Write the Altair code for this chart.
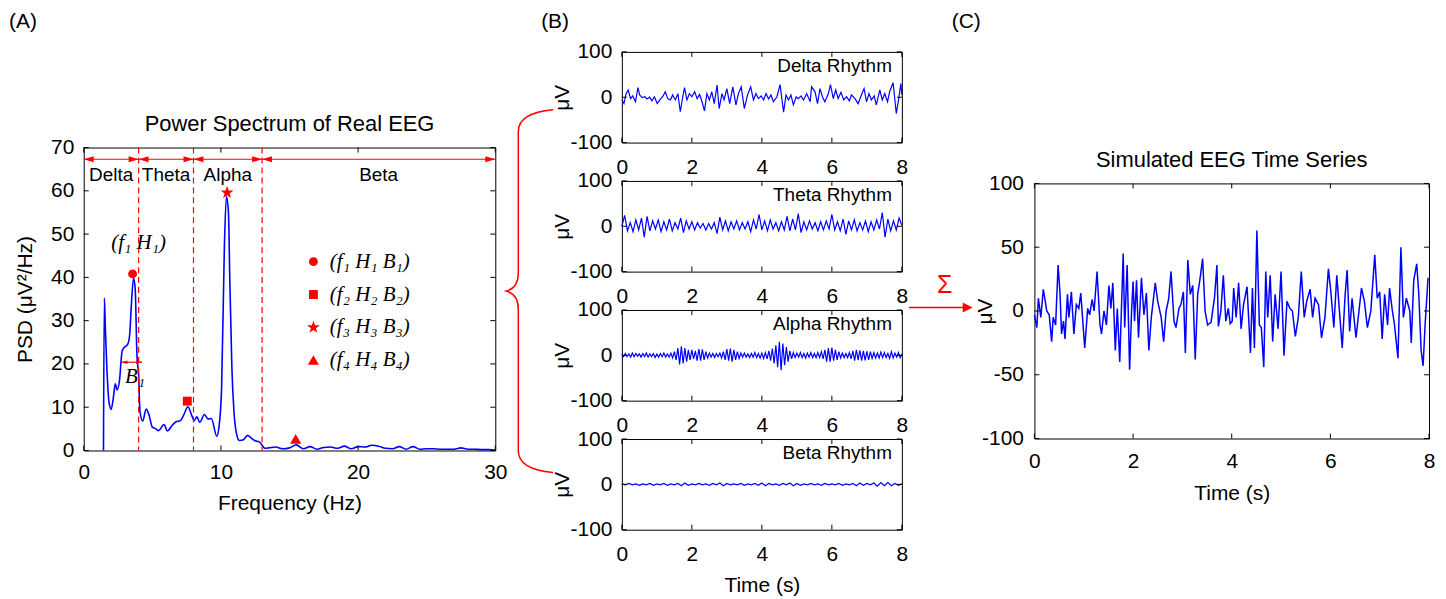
import altair as alt
import pandas as pd

FONT = "Liberation Sans"
SERIF = "Liberation Serif"
BLUE = "#0000ff"
RED = "#ff0000"

# ---------------- Panel A : power spectrum of real EEG ----------------
psd_freq = [1.44, 1.50, 1.58, 1.70, 1.85, 2.00, 2.15, 2.30, 2.43, 2.60,
            2.80, 2.95, 3.20, 3.35, 3.46, 3.63, 3.75, 3.88, 4.00, 4.10,
            4.30, 4.55, 4.75, 5.00, 5.20, 5.45, 5.85, 6.10, 6.40, 6.70,
            7.05, 7.30, 7.60, 7.85, 8.05, 8.25, 8.45, 8.80, 9.05, 9.30,
            9.70, 9.85, 10.05, 10.25, 10.40, 10.55, 10.65, 10.80, 10.95, 11.15,
            11.35, 11.60, 11.95, 12.20, 12.45, 12.80, 13.05, 13.20,
            13.5, 14.0, 14.5, 15.0, 15.5, 16.0, 16.5, 17.0, 17.5, 18.0,
            18.5, 19.0, 19.5, 20.0, 20.5, 21.0, 21.5, 22.0, 22.5, 23.0,
            23.5, 24.0, 24.5, 25.0, 25.5, 26.0, 26.5, 27.0, 27.5, 28.0,
            28.5, 29.0, 29.5, 30.0]
psd_val = [0, 35.2, 28, 18, 11, 9.5, 12, 15.4, 14, 16,
           23, 23.8, 24.5, 26.8, 33, 39.8, 37.5, 22, 17.5, 9,
           6.8, 9.6, 8.3, 5.4, 5.1, 4.6, 6.0, 4.5, 5.6, 6.6,
           6.9, 8.3, 10.1, 8.3, 6.9, 7.8, 6.5, 8.3, 7.3, 7.4,
           3.3, 5.2, 14.5, 46.8, 58.7, 55, 39, 19, 9, 3.7,
           2.3, 2.4, 3.5, 2.9, 2.3, 2.0, 1.0, 0.5,
           0.6, 0.8, 0.4, 0.6, 1.3, 0.4, 0.9, 0.3, 0.7, 0.8,
           0.5, 1.0, 0.4, 0.9, 0.8, 1.2, 1.0, 0.5, 0.4, 0.9,
           0.3, 0.9, 0.3, 0.4, 0.4, 0.3, 0.3, 0.3, 0.6, 0.3,
           0.3, 0.2, 0.2, 0.1]
band_names = ["Delta", "Theta", "Alpha", "Beta"]
band_start = [0, 4, 8, 13]
band_end = [4, 8, 13, 30]
band_mid = [2.0, 6.0, 10.5, 21.5]
band_edges = [4, 8, 13]
band_arrow_level = 67.3
band_label_level = 63.7
peak_labels = ["(f\u2081 H\u2081 B\u2081)", "(f\u2082 H\u2082 B\u2082)",
               "(f\u2083 H\u2083 B\u2083)", "(f\u2084 H\u2084 B\u2084)"]
peak_freq = [3.56, 7.55, 10.45, 15.45]
peak_psd = [40.8, 11.4, 59.6, 2.6]
b1_start, b1_end, b1_level = 2.75, 4.25, 20.4
fh_text, fh_freq, fh_psd = "(f\u2081 H\u2081)", 4.0, 47.9
b1_text, b1_freq, b1_psd = "B\u2081", 3.0, 17.0
psd_xticks = [0, 10, 20, 30]
psd_yticks = [0, 10, 20, 30, 40, 50, 60, 70]

# ---------------- Panel B : rhythms ----------------
delta_t = [0.00, 0.06, 0.12, 0.18, 0.25, 0.31, 0.39, 0.46, 0.51, 0.58,
           0.66, 0.72, 0.79, 0.86, 0.93, 1.01, 1.10, 1.18, 1.24, 1.31,
           1.39, 1.45, 1.53, 1.60, 1.67, 1.74, 1.79, 1.86, 1.93, 2.00,
           2.08, 2.15, 2.22, 2.29, 2.36, 2.43, 2.50, 2.57, 2.64, 2.72,
           2.78, 2.86, 2.92, 3.00, 3.08, 3.17, 3.26, 3.33, 3.41, 3.50,
           3.59, 3.68, 3.76, 3.83, 3.90, 3.98, 4.05, 4.12, 4.19, 4.26,
           4.33, 4.43, 4.52, 4.62, 4.69, 4.76, 4.83, 4.90, 4.98, 5.04,
           5.12, 5.19, 5.28, 5.38, 5.42, 5.52, 5.59, 5.66, 5.73, 5.80,
           5.90, 5.96, 6.04, 6.11, 6.18, 6.26, 6.34, 6.42, 6.50, 6.56,
           6.66, 6.75, 6.85, 6.92, 6.99, 7.06, 7.13, 7.21, 7.27, 7.37,
           7.44, 7.51, 7.59, 7.65, 7.75, 7.84, 7.91, 7.97, 8.00]
delta_v = [-6, -14, 8, 16, -3, 3, -10, 21, 5, -1,
           1, -4, 0, -8, 1, -14, -4, 3, 12, -3,
           -6, 5, -6, 8, -32, 1, 21, -6, 8, 1,
           12, -3, 6, -10, -30, 8, -6, 12, -14, 27,
           -25, 8, -6, 19, -14, 23, -17, 8, 23, -25,
           5, 23, -6, 8, -3, 3, -6, 8, -4, 5,
           -10, 1, 28, -33, 5, -6, 5, -17, 1, -3,
           3, -6, 8, -10, 23, 12, -14, 19, 1, -10,
           8, 28, -3, 16, -3, 11, -6, 1, -8, 5,
           -3, -14, 6, 19, -10, 8, -6, 3, -17, 16,
           -6, 8, -10, 12, 32, -36, -3, 30, 5]
theta_v = [0, 24, -10, 8, -12, 14, -8, 18, -24, 22,
           -10, 12, -6, 14, -12, 10, -8, 16, -10, 8,
           -6, 18, -14, 12, -6, 10, -8, 8, -4, 6,
           -8, 6, -6, 8, -16, 20, -8, 12, -10, 10,
           -6, 12, -8, 8, -6, 10, -12, 14, -6, 26,
           -8, 12, -10, 14, -6, 8, -10, 10, -8, 22,
           -10, 16, -8, 28, -14, 10, -8, 12, -6, 8,
           -10, 10, -8, 12, -6, 26, -8, 10, -10, 16,
           -18, 12, -8, 14, -10, 8, -8, 12, -12, 10,
           -8, 14, -6, 30, -24, 16, -10, 12, -8, 18, 2]
alpha_v = [2, -3, 4, -3, 3, -4, 5, -3, 4, -2,
           3, -4, 4, -3, 5, -4, 3, -3, 4, -5,
           3, -4, 4, -3, 5, -4, 3, -4, 5, -6,
           8, -10, 16, -20, 20, -18, 16, -14, 12, -10, 12, -8,
           10, -12, 14, -12, 13, -10, 8, -6,
           5, -4, 4, -5, 4, -3, 5, -6,
           8, -10, 14, -12, 15, -14, 12, -10, 8, -7, 5,
           -4, 5, -4, 3, -5, 4, -4, 6, -5, 4, -6, 5, -7, 6, -8,
           10, -12, 15, -18, 22, -26, 30, -33, 26, -22, 18, -14, 10, -8,
           6, -5, 5, -4, 6, -5, 4, -6, 5, -4, 6, -5, 4, -5, 6, -5, 8, -8,
           12, -14, 16, -14, 17, -12, 12, -10, 8, -6, 5,
           -5, 4, -5, 6, -8, 10,
           -12, 12, -10, 11, -12, 10, -11, 9, -10, 8, -7, 6, -6,
           5, -6, 7, -5, 6, -5, 4, -7, 8, -6, 5, -4, 6, -5, 3]
beta_v = [1, -1, 2, -1, 1, -2, 1, -1, 2, -2,
          1, -1, 2, -2, 1, -1, 2, -3, 3, -2,
          1, -1, 2, -1, 1, -2, 2, -1, 3, -3,
          2, -1, 1, -1, 2, -2, 1, -1, 2, -2,
          3, -3, 2, -1, 1, -2, 2, -1, 3, -3,
          2, -2, 1, -1, 2, -1, 1, -2, 2, -1,
          1, -1, 2, -2, 1, -1, 2, -3, 3, -2,
          2, -1, 3, -4, 4, -3, 4, -3, 2, -2, 1]
rhythm_names = ["Delta Rhythm", "Theta Rhythm", "Alpha Rhythm", "Beta Rhythm"]

# ---------------- Panel C : simulated EEG ----------------
eeg_t = [0.00, 0.05, 0.08, 0.13, 0.18, 0.22, 0.25, 0.30, 0.35, 0.38,
         0.43, 0.48, 0.52, 0.55, 0.59, 0.62, 0.67, 0.70, 0.75, 0.80,
         0.85, 0.90, 0.94, 1.02, 1.08, 1.12, 1.17, 1.21, 1.27, 1.33,
         1.36, 1.41, 1.46, 1.51, 1.55, 1.59, 1.64, 1.68, 1.73, 1.80,
         1.83, 1.88, 1.93, 1.97, 2.00, 2.03, 2.07, 2.11, 2.17, 2.22,
         2.27, 2.32, 2.37, 2.45, 2.50, 2.57, 2.62, 2.67, 2.72, 2.77,
         2.83, 2.87, 2.93, 2.97, 3.02, 3.06, 3.11, 3.16, 3.21, 3.26,
         3.31, 3.36, 3.41, 3.46, 3.51, 3.58, 3.65, 3.70, 3.73, 3.78,
         3.83, 3.88, 3.93, 3.97, 4.01, 4.04, 4.09, 4.14, 4.19, 4.24,
         4.31, 4.38, 4.42, 4.46, 4.51, 4.56, 4.60, 4.65, 4.69, 4.73,
         4.78, 4.83, 4.88, 4.94, 5.00, 5.06, 5.12, 5.18, 5.23, 5.29,
         5.35, 5.41, 5.47, 5.52, 5.59, 5.64, 5.69, 5.76, 5.82, 5.89,
         5.96, 6.01, 6.07, 6.13, 6.18, 6.24, 6.30, 6.34, 6.39, 6.44,
         6.52, 6.58, 6.63, 6.69, 6.75, 6.82, 6.90, 6.95, 7.00, 7.05,
         7.10, 7.16, 7.20, 7.25, 7.30, 7.37, 7.43, 7.48, 7.54, 7.61,
         7.64, 7.69, 7.75, 7.79, 7.84, 7.88, 7.92, 7.98]
eeg_v = [-3, -13, 10, -5, 17, 7.5, 0, -3, -24, -5,
         -11, 36, 13, -18, -8, -22, 13, -5, 15, -18,
         5, 2, 14, -29, 2, -3, 9, 0, 31, -11,
         -18, 0, -11, 20, 2, 22, -31, 2, -40, 45,
         -13, 36, -46, 0, 23, -8, 24, -21, 26, -3,
         14, -31, -5, 22, 7.5, -5, -24, 0, 9, 31,
         -8, -13, 2, 5, 15, -33, 40, 13, 20, -38,
         13, 26, 41, 0, -11, -9, 10, 36, -12, 0,
         28, -8, 2, -10, -8, 18, -5, 22, -14, 5,
         19, -33, 18, -29, 63, -11, -13, -44, 31, -5,
         28, -24, 13, -14, 31, -35, 7.5, 2, 0, -20,
         -5, 31, -5, 7.5, 17, -5, 10, 5, -21, -5,
         33, 15, -13, 28, 2, -29, 13, 32, -16, 10,
         -21, 0, 18, 7.5, -13, 0, 44, 10, 15, -22,
         13, -11, 18, 2, -11, -37, 50, -5, 10, 0,
         -25, 24, 37, 15, -31, -43, -11, 26]

time_ticks = [0, 2, 4, 6, 8]
rhythm_yticks = [-100, 0, 100]
eeg_yticks = [-100, -50, 0, 50, 100]

# ---------------- shapes (symbol paths) ----------------
STAR = ("M0,-1.5L0.353,-0.486L1.427,-0.464L0.571,0.185L0.882,1.214L0,0.6"
        "L-0.882,1.214L-0.571,0.185L-1.427,-0.464L-0.353,-0.486Z")
TRI = "M0,-1.15L1.25,1L-1.25,1Z"
HEAD_R = "M0,0L-2,-0.6L-2,0.6Z"
HEAD_L = "M0,0L2,-0.6L2,0.6Z"
HEAD_BIG = "M0,0L-2,-1L-2,1Z"
BRACE = ("M0.132,-1C0.02,-0.99,-0.06,-0.96,-0.06,-0.88L-0.06,-0.1"
         "C-0.06,-0.04,-0.09,-0.01,-0.126,0C-0.09,0.01,-0.06,0.04,-0.06,0.1"
         "L-0.06,0.88C-0.06,0.96,0.02,0.99,0.132,1")
HYPHEN_LABEL = "'' + datum.value"

WA, HA = 413, 304
WB, HB = 281, 91
WC, HC = 396, 256


def one():
    return pd.DataFrame({"k": [0]})


def ptext(text, x, y, size=21, align="left", color="black", font=FONT, style="normal"):
    return alt.Chart(one()).mark_text(
        text=text, align=align, baseline="middle", fontSize=size, font=font,
        fontStyle=style, color=color
    ).encode(x=alt.value(x), y=alt.value(y))


def bound_marker(x):
    return alt.Chart(one()).mark_rule(opacity=0).encode(
        x=alt.value(x), y=alt.value(0), y2=alt.value(10))


def spacer(w):
    return alt.Chart(one()).mark_point(opacity=0).encode(
        x=alt.value(0), y=alt.value(0)
    ).properties(width=w, height=1, view=alt.ViewBackground(stroke="transparent"))


def inner_ticks(xvals, yvals, xs, ys, W, H, L=5):
    dx = pd.DataFrame({"v": xvals})
    dy = pd.DataFrame({"v": yvals})
    out = []
    for y0, y1 in [(H, H - L), (0, L)]:
        out.append(alt.Chart(dx).mark_rule(color="black", strokeWidth=1).encode(
            x=alt.X("v:Q", scale=xs), y=alt.value(y0), y2=alt.value(y1)))
    for x0, x1 in [(0, L), (W, W - L)]:
        out.append(alt.Chart(dy).mark_rule(color="black", strokeWidth=1).encode(
            y=alt.Y("v:Q", scale=ys), x=alt.value(x0), x2=alt.value(x1)))
    return out


def even_times(vals):
    step = 8.0 / (len(vals) - 1)
    return [round(i * step, 4) for i in range(len(vals))]


# ---------------- Panel A ----------------
xA = alt.Scale(domain=[0, 30], nice=False, zero=False)
yA = alt.Scale(domain=[0, 70], nice=False, zero=False)

psd_df = pd.DataFrame({"f": psd_freq, "p": psd_val})
line_A = alt.Chart(psd_df).mark_line(color=BLUE, strokeWidth=1.6, interpolate="monotone").encode(
    x=alt.X("f:Q", scale=xA, axis=alt.Axis(values=psd_xticks, title="Frequency (Hz)",
                                           labelPadding=11, labelFlush=False, titleY=42.5)),
    y=alt.Y("p:Q", scale=yA, axis=alt.Axis(values=psd_yticks, title="PSD (\u03bcV\u00b2/Hz)",
                                           labelPadding=10, titleX=-58.5, titleY=HA / 2,
                                           titleBaseline="middle", titleAngle=270)),
)

edges_A = alt.Chart(pd.DataFrame({"e": band_edges})).mark_rule(
    color=RED, strokeDash=[6, 4], strokeWidth=1.2).encode(x=alt.X("e:Q", scale=xA))

band_df = pd.DataFrame({"name": band_names, "s": band_start, "e": band_end, "m": band_mid})
band_rules = alt.Chart(band_df).mark_rule(color=RED, strokeWidth=1.2).encode(
    x=alt.X("s:Q", scale=xA), x2="e:Q", y=alt.YDatum(band_arrow_level, scale=yA))
band_head_l = alt.Chart(band_df).mark_point(shape=HEAD_L, filled=True, color=RED, opacity=1, size=100).encode(
    x=alt.X("s:Q", scale=xA), y=alt.YDatum(band_arrow_level, scale=yA))
band_head_r = alt.Chart(band_df).mark_point(shape=HEAD_R, filled=True, color=RED, opacity=1, size=100).encode(
    x=alt.X("e:Q", scale=xA), y=alt.YDatum(band_arrow_level, scale=yA))
band_text = alt.Chart(band_df).mark_text(font=FONT, fontSize=19, color="black", baseline="middle").encode(
    x=alt.X("m:Q", scale=xA), y=alt.YDatum(band_label_level, scale=yA), text="name:N")

peak_df = pd.DataFrame({"lab": peak_labels, "f": peak_freq, "p": peak_psd})
peaks = alt.Chart(peak_df).mark_point(filled=True, color=RED, opacity=1, size=80).encode(
    x=alt.X("f:Q", scale=xA),
    y=alt.Y("p:Q", scale=yA),
    shape=alt.Shape("lab:N",
                    scale=alt.Scale(domain=peak_labels, range=["circle", "square", STAR, TRI]),
                    legend=alt.Legend(orient="none", legendX=220, legendY=200, title=None,
                                      labelFont=SERIF, labelFontStyle="italic", labelFontSize=21,
                                      labelColor="black", symbolSize=80, symbolFillColor=RED,
                                      symbolStrokeColor=RED, symbolStrokeWidth=0, rowPadding=11,
                                      labelOffset=6, padding=0, labelLimit=0)),
)

b1_df = pd.DataFrame({"s": [b1_start], "e": [b1_end]})
b1_rule = alt.Chart(b1_df).mark_rule(color=RED, strokeWidth=1.2).encode(
    x=alt.X("s:Q", scale=xA), x2="e:Q", y=alt.YDatum(b1_level, scale=yA))
b1_hl = alt.Chart(b1_df).mark_point(shape=HEAD_L, filled=True, color=RED, opacity=1, size=36).encode(
    x=alt.X("s:Q", scale=xA), y=alt.YDatum(b1_level, scale=yA))
b1_hr = alt.Chart(b1_df).mark_point(shape=HEAD_R, filled=True, color=RED, opacity=1, size=36).encode(
    x=alt.X("e:Q", scale=xA), y=alt.YDatum(b1_level, scale=yA))

fh_label = alt.Chart(one()).mark_text(text=fh_text, font=SERIF, fontStyle="italic", fontSize=21,
                                      color="black", baseline="middle").encode(
    x=alt.XDatum(fh_freq, scale=xA), y=alt.YDatum(fh_psd, scale=yA))
b1_label = alt.Chart(one()).mark_text(text=b1_text, font=SERIF, fontStyle="italic", fontSize=21,
                                      color="black", baseline="middle", align="left").encode(
    x=alt.XDatum(b1_freq, scale=xA), y=alt.YDatum(b1_psd, scale=yA))

panelA = alt.layer(
    line_A, edges_A, band_rules, band_head_l, band_head_r, band_text, peaks,
    b1_rule, b1_hl, b1_hr, fh_label, b1_label,
    *inner_ticks(psd_xticks, psd_yticks, xA, yA, WA, HA),
    ptext("Power Spectrum of Real EEG", WA / 2, -23.6, size=22, align="center"),
    ptext("(A)", -75, -126),
    bound_marker(427),
).properties(width=WA, height=HA)
colA = alt.vconcat(spacer(WA), panelA, spacing=95, bounds="flush")


# ---------------- Panel B ----------------
def rhythm_panel(t, v, label, extra, last):
    xs = alt.Scale(domain=[0, 8], nice=False, zero=False)
    ys = alt.Scale(domain=[-100, 100], nice=False, zero=False)
    df = pd.DataFrame({"t": t, "v": v})
    xaxis = alt.Axis(values=time_ticks, labelPadding=14, labelFlush=False,
                     title="Time (s)" if last else None, titleY=45.5)
    line = alt.Chart(df).mark_line(color=BLUE, strokeWidth=1.2).encode(
        x=alt.X("t:Q", scale=xs, axis=xaxis),
        y=alt.Y("v:Q", scale=ys, axis=alt.Axis(values=rhythm_yticks, title="\u03bcV", labelPadding=10,
                                               labelExpr=HYPHEN_LABEL,
                                               titleX=-60, titleY=HB / 2, titleBaseline="middle",
                                               titleAngle=270)),
    )
    return alt.layer(
        line,
        *inner_ticks(time_ticks, rhythm_yticks, xs, ys, WB, HB),
        ptext(label, WB - 10, 14, size=19, align="right"),
        *extra,
    ).properties(width=WB, height=HB)


brace = alt.Chart(one()).mark_point(shape=BRACE, filled=False, color=RED, opacity=1,
                                    strokeWidth=1.5, size=132496).encode(
    x=alt.value(-93), y=alt.value(240))
b_extra = [ptext("(B)", -81, -30), brace, bound_marker(-121), bound_marker(289)]

bp1 = rhythm_panel(delta_t, delta_v, rhythm_names[0], b_extra, False)
bp2 = rhythm_panel(even_times(theta_v), theta_v, rhythm_names[1], [], False)
bp3 = rhythm_panel(even_times(alpha_v), alpha_v, rhythm_names[2], [], False)
bp4 = rhythm_panel(even_times(beta_v), beta_v, rhythm_names[3], [], True)
colB = alt.vconcat(bp1, bp2, bp3, bp4, spacing=38.5, bounds="flush")

# ---------------- Panel C ----------------
xC = alt.Scale(domain=[0, 8], nice=False, zero=False)
yC = alt.Scale(domain=[-100, 100], nice=False, zero=False)
eeg_df = pd.DataFrame({"t": eeg_t, "v": eeg_v})
line_C = alt.Chart(eeg_df).mark_line(color=BLUE, strokeWidth=1.5).encode(
    x=alt.X("t:Q", scale=xC, axis=alt.Axis(values=time_ticks, title="Time (s)", labelPadding=12,
                                           labelFlush=False, titleY=44)),
    y=alt.Y("v:Q", scale=yC, axis=alt.Axis(values=eeg_yticks, title="\u03bcV", labelPadding=11,
                                           labelExpr=HYPHEN_LABEL,
                                           titleX=-49.5, titleY=HC / 2, titleBaseline="middle",
                                           titleAngle=270)),
)
arrow_rule = alt.Chart(one()).mark_rule(color=RED, strokeWidth=1.5).encode(
    x=alt.value(-126), x2=alt.value(-68), y=alt.value(124.5))
arrow_head = alt.Chart(one()).mark_point(shape=HEAD_BIG, filled=True, color=RED, opacity=1, size=100).encode(
    x=alt.value(-62), y=alt.value(124.5))

panelC = alt.layer(
    line_C,
    *inner_ticks(time_ticks, eeg_yticks, xC, yC, WC, HC),
    ptext("Simulated EEG Time Series", WC / 2, -23.5, size=22, align="center"),
    ptext("(C)", -83, -162),
    ptext("\u03a3", -90, 102, size=25, align="center", color=RED),
    arrow_rule, arrow_head,
    bound_marker(-133),
).properties(width=WC, height=HC)
colC = alt.vconcat(spacer(WC), panelC, spacing=131, bounds="flush")

chart = alt.hconcat(
    colA, colB, colC, spacing=-10,
    padding={"left": 0, "top": 1, "right": 2, "bottom": 2},
).configure_view(
    stroke="black", strokeWidth=1
).configure_axis(
    labelFont=FONT, labelFontSize=21, labelColor="black",
    titleFont=FONT, titleFontSize=21, titleFontWeight="normal", titleColor="black",
    grid=False, ticks=False, tickSize=0, domain=False, labelOverlap=False,
)

chart.save("out.html", embed_options={"renderer": "svg", "actions": False})
